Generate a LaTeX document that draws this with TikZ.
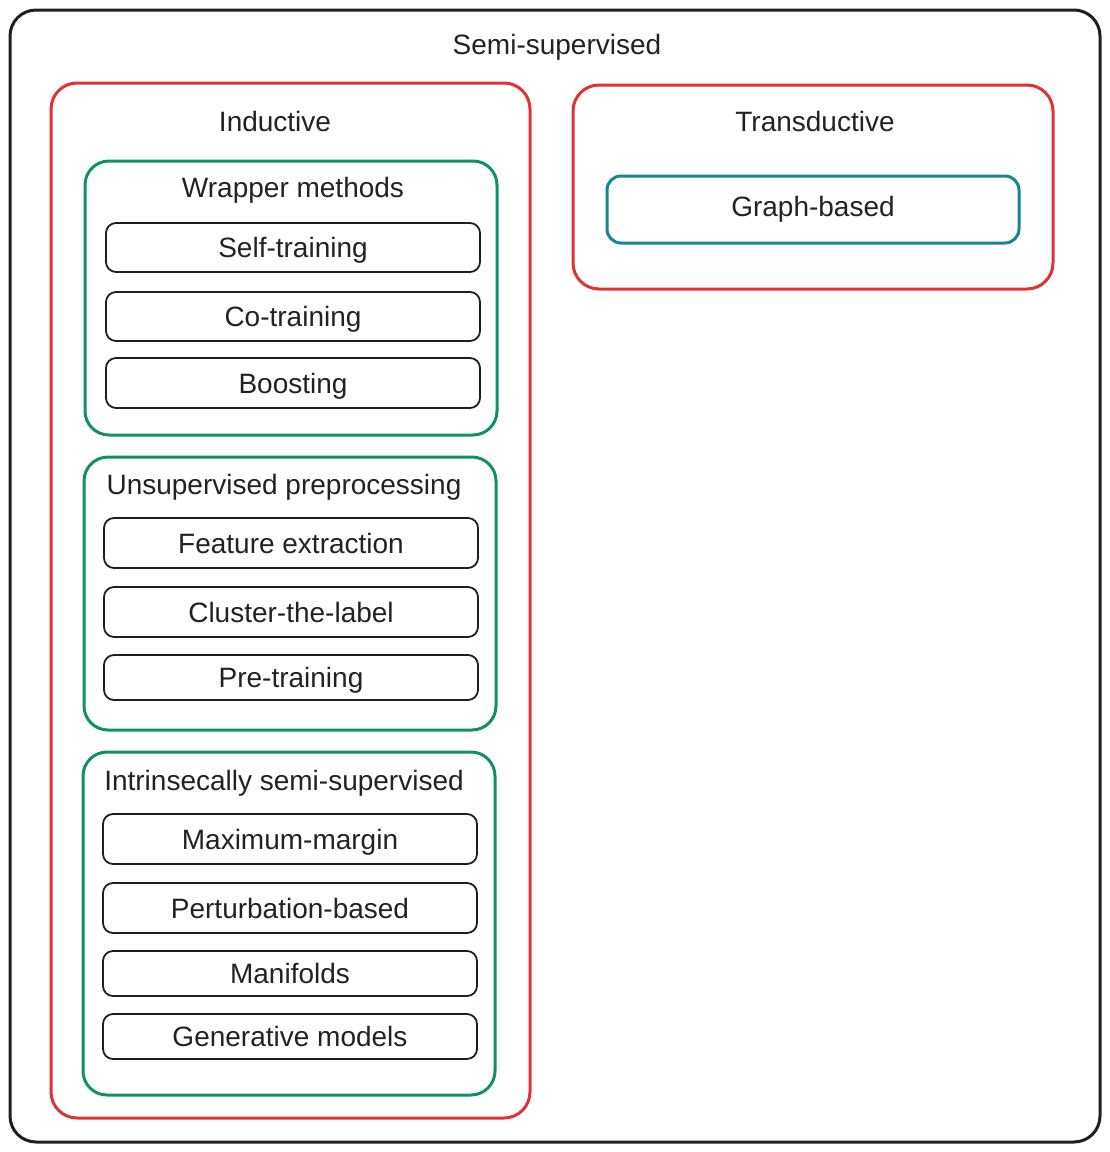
\documentclass[tikz,border=0pt]{standalone}
\usepackage{fontspec}
\setmainfont{Liberation Sans}
\definecolor{cred}{HTML}{E03232}
\definecolor{cgreen}{HTML}{0F9068}
\definecolor{cteal}{HTML}{148592}
\definecolor{cdark}{HTML}{1F1F1F}
\definecolor{ctext}{HTML}{222222}
\tikzset{
  frame/.style={draw, rectangle, rounded corners=#1, inner sep=0pt},
  outerbox/.style={frame=26pt, draw=cdark, line width=3pt},
  redbox/.style={frame=26pt, draw=cred, line width=3pt},
  greenbox/.style={frame=24pt, draw=cgreen, line width=3pt},
  tealbox/.style={frame=14pt, draw=cteal, line width=3pt, minimum width=412pt, minimum height=67pt},
  itembox/.style={frame=10pt, draw=cdark, line width=1.8pt, minimum width=374pt},
  lbl/.style={font=\fontsize{28}{32}\selectfont, text=ctext, text height=20pt, text depth=0pt, inner sep=0pt},
}
\begin{document}
\begin{tikzpicture}[x=1pt,y=-1pt]
\useasboundingbox (0,0) rectangle (1110,1152);
% containers
\node[outerbox, minimum width=1090pt, minimum height=1132pt] (semi) at (555,576) {};
\node[lbl] (semit) at (557,44) {Semi-supervised};
\node[redbox, minimum width=479pt, minimum height=1035pt] (ind) at (290.5,600.5) {};
\node[lbl] (indt) at (275,121) {Inductive};
\node[redbox, minimum width=480pt, minimum height=204pt] (tra) at (813,187) {};
\node[lbl] (trat) at (815,121) {Transductive};
\node[tealbox, lbl, text depth=7pt] (graph) at (813,209.5) {Graph-based};
% wrapper
\node[greenbox, minimum width=412pt, minimum height=274pt] (wrap) at (291,298) {};
\node[lbl] (wrapt) at (293,187) {Wrapper methods};
\node[itembox, lbl, minimum height=49pt] (self) at (293,247.5) {Self-training};
\node[itembox, lbl, minimum height=49pt] (co) at (293,316.5) {Co-training};
\node[itembox, lbl, minimum height=50pt] (boost) at (293,383) {Boosting};
% unsupervised
\node[greenbox, minimum width=412pt, minimum height=273pt] (unsup) at (290,593.5) {};
\node[lbl] (unsupt) at (284,484) {Unsupervised preprocessing};
\node[itembox, lbl, minimum height=50pt] (feat) at (291,543) {Feature extraction};
\node[itembox, lbl, minimum height=50pt] (clus) at (291,612) {Cluster-the-label};
\node[itembox, lbl, minimum height=45pt] (pre) at (291,677.5) {Pre-training};
% intrinsic
\node[greenbox, minimum width=412pt, minimum height=343pt] (intr) at (289,923.5) {};
\node[lbl] (intrt) at (284,780) {Intrinsecally semi-supervised};
\node[itembox, lbl, minimum height=50pt] (maxm) at (290,839) {Maximum-margin};
\node[itembox, lbl, minimum height=50pt] (pert) at (290,908) {Perturbation-based};
\node[itembox, lbl, minimum height=45pt] (mani) at (290,973.5) {Manifolds};
\node[itembox, lbl, minimum height=45pt] (gen) at (290,1036.5) {Generative models};
\end{tikzpicture}
\end{document}
